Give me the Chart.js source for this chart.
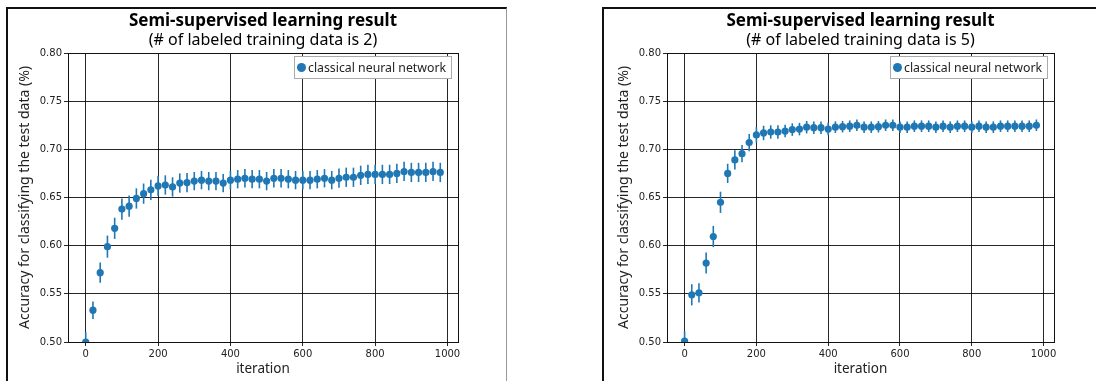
<!DOCTYPE html>
<html>
<head>
<meta charset="utf-8">
<script src="https://cdn.jsdelivr.net/npm/chart.js@4.4.1/dist/chart.umd.min.js"></script>
<style>
  body { margin: 0; background: #fff; width: 1096px; height: 381px; overflow: hidden; position: relative; }
  .frame { position: absolute; top: 7px; height: 400px; border-top: 2px solid #111; border-left: 2px solid #111; }
  #frameL { left: 6px; width: 498px; border-right: 1px solid #999; }
  #frameR { left: 602px; width: 500px; }
  canvas { position: absolute; top: 9px; }
  #chartL { left: 8px; }
  #chartR { left: 607px; }
</style>
</head>
<body>
<div class="frame" id="frameL"></div>
<div class="frame" id="frameR"></div>
<canvas id="chartL" width="498" height="372"></canvas>
<canvas id="chartR" width="489" height="372"></canvas>
<script>
const iterations = [0, 20, 40, 60, 80, 100, 120, 140, 160, 180,
    200, 220, 240, 260, 280, 300, 320, 340, 360, 380,
    400, 420, 440, 460, 480, 500, 520, 540, 560, 580,
    600, 620, 640, 660, 680, 700, 720, 740, 760, 780,
    800, 820, 840, 860, 880, 900, 920, 940, 960, 980];

// 2 labeled training data
const accuracy2 = [0.500, 0.533, 0.572, 0.599, 0.618, 0.638, 0.641, 0.649, 0.654, 0.658,
    0.662, 0.663, 0.661, 0.665, 0.6655, 0.667, 0.668, 0.667, 0.667, 0.665,
    0.668, 0.669, 0.670, 0.669, 0.669, 0.667, 0.670, 0.670, 0.669, 0.668,
    0.668, 0.668, 0.669, 0.670, 0.668, 0.670, 0.671, 0.671, 0.673, 0.674,
    0.674, 0.674, 0.674, 0.675, 0.677, 0.676, 0.676, 0.676, 0.677, 0.676];
const error2 = [0.010, 0.009, 0.0105, 0.0115, 0.011, 0.011, 0.011, 0.0105, 0.0105, 0.0105,
    0.0105, 0.010, 0.010, 0.010, 0.010, 0.0095, 0.0095, 0.0095, 0.0095, 0.0095,
    0.0095, 0.0095, 0.0095, 0.0095, 0.0095, 0.0095, 0.0095, 0.0095, 0.0095, 0.0095,
    0.0095, 0.0095, 0.0095, 0.0095, 0.0095, 0.010, 0.010, 0.010, 0.010, 0.010,
    0.010, 0.010, 0.010, 0.010, 0.010, 0.010, 0.010, 0.010, 0.010, 0.010];

// 5 labeled training data
const accuracy5 = [0.501, 0.549, 0.551, 0.582, 0.6095, 0.645, 0.675, 0.689, 0.6955, 0.707,
    0.715, 0.717, 0.718, 0.718, 0.719, 0.7205, 0.721, 0.723, 0.7225, 0.7225,
    0.721, 0.723, 0.7235, 0.724, 0.725, 0.723, 0.723, 0.7235, 0.725, 0.725,
    0.723, 0.723, 0.724, 0.724, 0.724, 0.723, 0.724, 0.723, 0.724, 0.724,
    0.723, 0.724, 0.723, 0.723, 0.724, 0.724, 0.724, 0.724, 0.724, 0.725];
const error5 = [0.010, 0.011, 0.010, 0.011, 0.011, 0.011, 0.010, 0.010, 0.009, 0.009,
    0.008, 0.0075, 0.007, 0.007, 0.0065, 0.0065, 0.0065, 0.0065, 0.0065, 0.0065,
    0.0065, 0.006, 0.006, 0.006, 0.006, 0.006, 0.006, 0.006, 0.006, 0.006,
    0.006, 0.006, 0.006, 0.006, 0.006, 0.006, 0.006, 0.006, 0.006, 0.006,
    0.006, 0.006, 0.006, 0.006, 0.006, 0.006, 0.006, 0.006, 0.006, 0.006];

const xTicks = [0, 200, 400, 600, 800, 1000];
const yTicks = [0.50, 0.55, 0.60, 0.65, 0.70, 0.75, 0.80];
const seriesLabel = 'classical neural network';
const blue = '#1f77b4';
const gridColor = 'rgba(0, 0, 0, 0.85)';

// matplotlib-like legend inside the axes, upper right
const legendBox = {
    id: 'legendBox',
    afterDraw(chart) {
        const { ctx, chartArea } = chart;
        const text = chart.data.datasets[0].label;
        ctx.save();
        ctx.font = '12.3px "Noto Sans"';
        const w = Math.round(ctx.measureText(text).width + 20);
        const h = 23;
        const x = Math.round(chartArea.right - 6 - w);
        const y = Math.round(chartArea.top + 3);
        ctx.fillStyle = '#fff';
        ctx.fillRect(x, y, w, h);
        ctx.strokeStyle = '#aaa';
        ctx.lineWidth = 1;
        ctx.strokeRect(x + 0.5, y + 0.5, w - 1, h - 1);
        ctx.beginPath();
        ctx.arc(x + 7.5, y + h / 2, 4.5, 0, Math.PI * 2);
        ctx.fillStyle = blue;
        ctx.fill();
        ctx.fillStyle = '#222';
        ctx.textBaseline = 'middle';
        ctx.fillText(text, x + 14, y + h / 2 + 0.5);
        ctx.restore();
    }
};

// top and right spines
const spines = {
    id: 'spines',
    afterDatasetsDraw(chart) {
        const { ctx, chartArea: a } = chart;
        ctx.save();
        ctx.strokeStyle = '#111';
        ctx.lineWidth = 1;
        ctx.strokeRect(a.left + 0.5, a.top + 0.5, a.right - a.left, a.bottom - a.top);
        ctx.restore();
    }
};

function plotChart(canvasId, subtitle, accuracy, errors, padRight) {
    const points = [];
    const bars = [];
    iterations.forEach((it, i) => {
        points.push({ x: it, y: accuracy[i] });
        bars.push({ x: it, y: [accuracy[i] - errors[i], accuracy[i] + errors[i]] });
    });

    return new Chart(document.getElementById(canvasId), {
        type: 'scatter',
        data: {
            datasets: [{
                label: seriesLabel,
                data: points,
                backgroundColor: blue,
                borderWidth: 0,
                pointRadius: 3.6,
                pointHoverRadius: 3.6,
                clip: 0,
                order: 0
            }, {
                type: 'bar',
                label: 'error',
                data: bars,
                backgroundColor: blue,
                barThickness: 1.6,
                inflateAmount: 0,
                clip: 0,
                order: 1
            }]
        },
        options: {
            responsive: false,
            animation: false,
            events: [],
            layout: { padding: { right: padRight } },
            plugins: {
                legend: { display: false },
                tooltip: { enabled: false },
                title: {
                    display: true,
                    text: 'Semi-supervised learning result',
                    fullSize: false,
                    color: '#000',
                    font: { family: 'Noto Sans', size: 17, weight: 'bold', lineHeight: 1.2 },
                    padding: { top: 2, bottom: 0 }
                },
                subtitle: {
                    display: true,
                    text: subtitle,
                    fullSize: false,
                    color: '#000',
                    font: { family: 'Noto Sans', size: 16, lineHeight: 1 },
                    padding: { top: 1, bottom: 4.6 }
                }
            },
            scales: {
                x: {
                    type: 'linear',
                    min: -49,
                    max: 1029,
                    offset: false,
                    afterBuildTicks: s => { s.ticks = xTicks.map(v => ({ value: v })); },
                    afterFit: s => { s.height = 39; },
                    ticks: {
                        color: '#222',
                        padding: 2,
                        maxRotation: 0,
                        font: { family: 'DejaVu Sans', size: 10 },
                        callback: v => String(v)
                    },
                    grid: { color: gridColor, tickLength: 4, offset: false },
                    border: { color: '#111' },
                    title: {
                        display: true,
                        text: 'iteration',
                        color: '#222',
                        font: { family: 'Noto Sans', size: 13.5 },
                        padding: { top: 0, bottom: 4 }
                    }
                },
                y: {
                    type: 'linear',
                    min: 0.5,
                    max: 0.8,
                    afterBuildTicks: s => { s.ticks = yTicks.map(v => ({ value: v })); },
                    afterFit: s => { s.width = 60; },
                    ticks: {
                        color: '#222',
                        padding: 2,
                        font: { family: 'DejaVu Sans', size: 10 },
                        callback: v => v.toFixed(2)
                    },
                    grid: { color: gridColor, tickLength: 4 },
                    border: { color: '#111' },
                    title: {
                        display: true,
                        text: 'Accuracy for classifying the test data (%)',
                        color: '#222',
                        font: { family: 'Noto Sans', size: 14 },
                        padding: { top: 9.1, bottom: 0 }
                    }
                }
            }
        },
        plugins: [spines, legendBox]
    });
}

plotChart('chartL', '(# of labeled training data is 2)', accuracy2, error2, 48);
plotChart('chartR', '(# of labeled training data is 5)', accuracy5, error5, 42);
</script>
</body>
</html>
